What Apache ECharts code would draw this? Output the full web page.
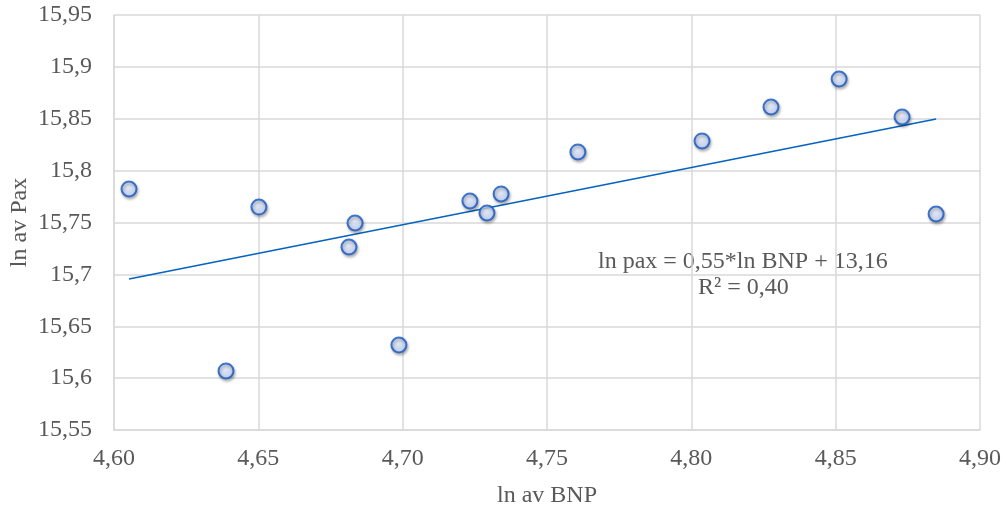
<!DOCTYPE html>
<html>
<head>
<meta charset="utf-8">
<script src="https://cdn.jsdelivr.net/npm/echarts@6/dist/echarts.min.js"></script>
<style>
  html, body { margin: 0; padding: 0; background: #fff; }
  #chart { width: 1006px; height: 509px; }
</style>
</head>
<body>
<div id="chart"></div>
<script>
// ln av BNP / ln av Pax
const bnp = [4.6052, 4.6388, 4.6502, 4.6814, 4.6835, 4.6987, 4.7233, 4.7292,
  4.7341, 4.7607, 4.8037, 4.8276, 4.8512, 4.8730, 4.8848];
const pax = [15.7823, 15.6069, 15.7649, 15.7264, 15.7495, 15.6319, 15.7707, 15.7592,
  15.7775, 15.8180, 15.8286, 15.8613, 15.8883, 15.8517, 15.7582];

// trend line endpoints
const trendX = [4.6052, 4.8848];
const trendY = [15.6955, 15.8498];

const eqText = "ln pax = 0,55*ln BNP + 13,16";
const r2Text = "R² = 0,40";

const fmt = (d) => (v) => v.toFixed(d).replace(".", ",");
const fmtY = (v) => {
  let s = v.toFixed(2);
  if (s.endsWith("0")) s = s.slice(0, -1);
  return s.replace(".", ",");
};

const myChart = echarts.init(document.getElementById("chart"));
const font = "'Liberation Serif', 'Times New Roman', serif";
const txt = "#595959";
const gridCol = "#d9d9d9";

var option = {
  animation: false,
  textStyle: { fontFamily: font },
  grid: { left: 114, right: 26, top: 15, bottom: 79, outerBoundsMode: "none" },
  xAxis: {
    type: "value",
    min: 4.6,
    max: 4.9,
    interval: 0.05,
    name: "ln av BNP",
    nameLocation: "middle",
    nameGap: 54,
    nameMoveOverlap: false,
    nameTextStyle: { fontSize: 24, color: txt, fontFamily: font },
    axisLine: { show: true, lineStyle: { color: gridCol, width: 1.5 } },
    axisTick: { show: false },
    axisLabel: { formatter: fmt(2), fontSize: 24, color: txt, margin: 17, fontFamily: font },
    splitLine: { show: true, lineStyle: { color: gridCol, width: 1.5 } },
  },
  yAxis: {
    type: "value",
    min: 15.55,
    max: 15.95,
    interval: 0.05,
    name: "ln av Pax",
    nameLocation: "middle",
    nameGap: 82,
    nameMoveOverlap: false,
    nameTextStyle: { fontSize: 24, color: txt, fontFamily: font },
    axisLine: { show: true, lineStyle: { color: gridCol, width: 1.5 } },
    axisTick: { show: false },
    axisLabel: { formatter: fmtY, fontSize: 24, color: txt, margin: 22, fontFamily: font },
    splitLine: { show: true, lineStyle: { color: gridCol, width: 1.5 } },
  },
  series: [
    {
      type: "line",
      data: trendX.map((x, i) => [x, trendY[i]]),
      symbol: "none",
      lineStyle: { color: "#0563c1", width: 1.6 },
      z: 2,
    },
    {
      type: "scatter",
      data: bnp.map((x, i) => [x, pax[i]]),
      symbolSize: 15,
      itemStyle: {
        color: new echarts.graphic.RadialGradient(0.45, 0.4, 0.7, [
          { offset: 0, color: "#eef3ff" },
          { offset: 1, color: "#b0c8fa" },
        ]),
        borderColor: "#1558c0",
        borderWidth: 2,
        shadowColor: "rgba(0,0,0,0.35)",
        shadowBlur: 3,
        shadowOffsetX: 1,
        shadowOffsetY: 2,
      },
      z: 3,
    },
  ],
  graphic: [
    {
      type: "text",
      left: 598,
      top: 250,
      style: { text: eqText, fontSize: 24, fill: txt, fontFamily: font },
    },
    {
      type: "text",
      left: 698,
      top: 276,
      style: { text: r2Text, fontSize: 24, fill: txt, fontFamily: font },
    },
  ],
};

myChart.setOption(option);
</script>
</body>
</html>
